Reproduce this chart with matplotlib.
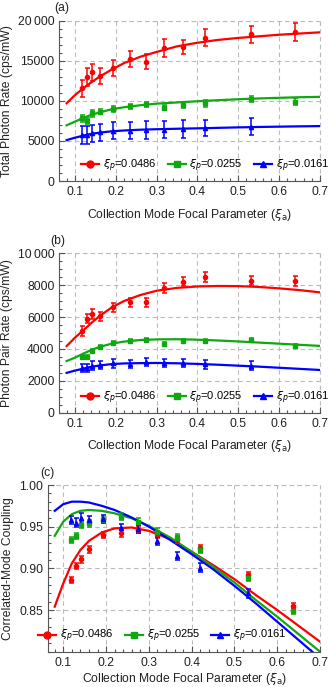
import matplotlib
matplotlib.use("Agg")
import matplotlib.pyplot as plt
from matplotlib.lines import Line2D
from matplotlib.ticker import MultipleLocator, FixedLocator, FixedFormatter

plt.rcParams['font.family'] = ['Liberation Sans', 'DejaVu Sans']
plt.rcParams['mathtext.fontset'] = 'dejavusans'

# ---------------- data ----------------
x_pts = [0.118, 0.129, 0.141, 0.161, 0.194, 0.235, 0.274, 0.318, 0.365, 0.419, 0.531, 0.638]
x_pts_blue = x_pts[:11]
labels = [r"$\xi_p$=0.0486", r"$\xi_p$=0.0255", r"$\xi_p$=0.0161"]
colors = ['#ff0000', '#10a810', '#0000ff']
markers = ['o', 's', '^']

# (a) total photon rate
a_red = [11560, 13000, 13550, 13100, 14050, 15180, 14900, 16630, 16750, 17900, 18300, 18600]
a_red_err = [1100, 1150, 1100, 1000, 1000, 1000, 950, 1100, 900, 1100, 1100, 1100]
a_green = [7800, 7500, 8430, 8650, 8980, 9300, 9550, 9150, 9500, 9690, 10250, 9900]
a_green_err = [400, 400, 400, 350, 350, 350, 350, 350, 350, 400, 400, 400]
a_blue = [5700, 5700, 5950, 6070, 6280, 6300, 6400, 6400, 6450, 6570, 6780]
a_blue_err = [1100, 1100, 1050, 1050, 1050, 1050, 1100, 1050, 1100, 1000, 1050]

# (b) photon pair rate
b_red = [5130, 5900, 6180, 6050, 6600, 6920, 6920, 7840, 8230, 8520, 8280, 8260]
b_red_err = [300, 300, 300, 280, 280, 280, 280, 300, 300, 300, 300, 300]
b_green = [3510, 3490, 3870, 4120, 4350, 4490, 4590, 4290, 4480, 4520, 4580, 4200]
b_green_err = [120, 120, 150, 130, 120, 120, 120, 120, 120, 120, 130, 130]
b_blue = [2800, 2800, 2950, 3000, 3100, 3070, 3180, 3120, 3120, 3030, 2950]
b_blue_err = [270, 270, 270, 270, 270, 260, 270, 260, 270, 260, 270]

# (c) correlated-mode coupling
c_red = [0.886, 0.903, 0.911, 0.923, 0.940, 0.942, 0.946, 0.941, 0.935, 0.924, 0.892, 0.855]
c_red_err = [0.004, 0.004, 0.004, 0.004, 0.004, 0.004, 0.004, 0.004, 0.004, 0.004, 0.004, 0.004]
c_green = [0.934, 0.939, 0.952, 0.954, 0.958, 0.962, 0.956, 0.944, 0.937, 0.922, 0.889, 0.849]
c_green_err = [0.004, 0.004, 0.004, 0.004, 0.004, 0.004, 0.004, 0.004, 0.004, 0.004, 0.004, 0.004]
c_blue = [0.958, 0.955, 0.960, 0.958, 0.959, 0.948, 0.947, 0.933, 0.915, 0.901, 0.870]
c_blue_err = [0.005, 0.005, 0.007, 0.005, 0.005, 0.005, 0.005, 0.005, 0.005, 0.005, 0.005]

# model curves
xc = [0.08, 0.10, 0.12, 0.14, 0.16, 0.19, 0.22, 0.26, 0.30, 0.35, 0.40, 0.45, 0.50, 0.55, 0.60, 0.65, 0.70]
ca_red = [9700, 10700, 11550, 12300, 13000, 13900, 14700, 15500, 16100, 16800, 17250, 17600, 17850, 18050, 18250, 18400, 18550]
ca_green = [6950, 7400, 7850, 8250, 8550, 8950, 9200, 9450, 9650, 9800, 9950, 10080, 10200, 10300, 10380, 10450, 10500]
ca_blue = [5100, 5400, 5650, 5880, 6030, 6200, 6300, 6400, 6460, 6520, 6570, 6630, 6690, 6740, 6780, 6820, 6850]

cb_red = [4180, 4700, 5150, 5620, 6050, 6600, 7000, 7380, 7650, 7830, 7920, 7950, 7940, 7890, 7800, 7690, 7550]
cb_green = [3240, 3450, 3700, 3930, 4120, 4330, 4460, 4560, 4600, 4610, 4580, 4530, 4470, 4400, 4330, 4260, 4190]
cb_blue = [2500, 2640, 2760, 2880, 2960, 3050, 3090, 3110, 3120, 3100, 3060, 3010, 2950, 2890, 2820, 2750, 2680]

cc_red = [0.854, 0.882, 0.906, 0.922, 0.933, 0.943, 0.948, 0.949, 0.945, 0.935, 0.920, 0.904, 0.887, 0.868, 0.850, 0.831, 0.812]
cc_green = [0.939, 0.956, 0.965, 0.969, 0.970, 0.969, 0.966, 0.960, 0.951, 0.937, 0.920, 0.902, 0.883, 0.862, 0.842, 0.821, 0.800]
cc_blue = [0.969, 0.977, 0.980, 0.980, 0.979, 0.975, 0.970, 0.961, 0.950, 0.934, 0.917, 0.899, 0.879, 0.858, 0.836, 0.814, 0.792]

xlabel = r"Collection Mode Focal Parameter ($\xi_{\rm a}$)"

FS = 8.7
TXT = '#222222'

fig = plt.figure(figsize=(3.3, 6.87), dpi=100)
W, H = 330.0, 687.0

def make_ax(left, right, top, bottom):
    return fig.add_axes([left / W, 1 - bottom / H, (right - left) / W, (bottom - top) / H])

ax_a = make_ax(59.3, 320, 20.7, 181)
ax_b = make_ax(59.3, 320, 253.3, 412.7)
ax_c = make_ax(48.3, 320, 485, 651.7)

def style(ax, xlim, ylim, ymajor, yminor, yticklabels):
    ax.set_xlim(*xlim)
    ax.set_ylim(*ylim)
    ax.xaxis.set_major_locator(FixedLocator([0.1, 0.2, 0.3, 0.4, 0.5, 0.6, 0.7]))
    ax.xaxis.set_major_formatter(FixedFormatter(['0.1', '0.2', '0.3', '0.4', '0.5', '0.6', '0.7']))
    ax.xaxis.set_minor_locator(MultipleLocator(0.02))
    ax.yaxis.set_major_locator(FixedLocator(ymajor))
    ax.yaxis.set_major_formatter(FixedFormatter(yticklabels))
    ax.yaxis.set_minor_locator(MultipleLocator(yminor))
    ax.tick_params(which='both', direction='in', colors='#555555', labelcolor=TXT, labelsize=FS, width=0.8)
    ax.tick_params(which='major', length=4, pad=3.5)
    ax.tick_params(which='minor', length=2)
    for s in ['top', 'right']:
        ax.spines[s].set_visible(False)
    for s in ['left', 'bottom']:
        ax.spines[s].set_color('#555555')
        ax.spines[s].set_linewidth(0.8)
    ax.grid(True, which='major', linestyle=(0, (4, 3)), color='#bbbbbb', linewidth=0.8)
    ax.set_axisbelow(True)
    # dashed frame at top and right
    ax.axhline(ylim[1], color='#bbbbbb', linestyle=(0, (4, 3)), linewidth=0.8, clip_on=False, zorder=0.5)
    ax.axvline(xlim[1], color='#bbbbbb', linestyle=(0, (4, 3)), linewidth=0.8, clip_on=False, zorder=0.5)
    ax.set_xlabel(xlabel, fontsize=FS, color=TXT)

def draw(ax, series, curves):
    for (xs, ys, es), cy, col, mk in zip(series, curves, colors, markers):
        ax.plot(xc, cy, color=col, lw=1.6, zorder=2)
        ax.errorbar(xs, ys, yerr=es, fmt=mk, color=col, ms=3, lw=1.1, capsize=1.8, capthick=1.1, zorder=3)

def legend(ax, anchor):
    handles = [Line2D([], [], color=c, marker=m, ms=5, lw=1.6) for c, m in zip(colors, markers)]
    ax.legend(handles, labels, loc='center', bbox_to_anchor=anchor, ncol=3, frameon=False,
              fontsize=8, handlelength=1.6, handletextpad=0.35, columnspacing=1.0, borderaxespad=0)

# (a)
style(ax_a, (0.062, 0.7), (0, 20000), [0, 5000, 10000, 15000, 20000], 1000,
      ['0', '5000', '10000', '15000', '20\u2009000'])
draw(ax_a, [(x_pts, a_red, a_red_err), (x_pts, a_green, a_green_err), (x_pts_blue, a_blue, a_blue_err)],
     [ca_red, ca_green, ca_blue])
legend(ax_a, (0.56, 0.095))
ax_a.set_ylabel("Total Photon Rate (cps/mW)", fontsize=FS, color=TXT)
ax_a.yaxis.set_label_coords(-0.176, 0.5)
ax_a.xaxis.set_label_coords(0.5, -0.16)
fig.text(54 / W, 1 - 8 / H, "(a)", fontsize=FS, ha='left', va='center', color=TXT)

# (b)
style(ax_b, (0.062, 0.7), (0, 10000), [0, 2000, 4000, 6000, 8000, 10000], 500,
      ['0', '2000', '4000', '6000', '8000', '10\u2009000'])
draw(ax_b, [(x_pts, b_red, b_red_err), (x_pts, b_green, b_green_err), (x_pts_blue, b_blue, b_blue_err)],
     [cb_red, cb_green, cb_blue])
legend(ax_b, (0.56, 0.095))
ax_b.set_ylabel("Photon Pair Rate (cps/mW)", fontsize=FS, color=TXT)
ax_b.yaxis.set_label_coords(-0.176, 0.5)
ax_b.xaxis.set_label_coords(0.5, -0.16)
fig.text(50 / W, 1 - 241 / H, "(b)", fontsize=FS, ha='left', va='center', color=TXT)

# (c)
style(ax_c, (0.065, 0.7), (0.80, 1.00), [0.85, 0.90, 0.95, 1.00], 0.01,
      ['0.85', '0.90', '0.95', '1.00'])
draw(ax_c, [(x_pts, c_red, c_red_err), (x_pts, c_green, c_green_err), (x_pts_blue, c_blue, c_blue_err)],
     [cc_red, cc_green, cc_blue])
legend(ax_c, (0.42, 0.094))
ax_c.set_ylabel("Correlated-Mode Coupling", fontsize=FS, color=TXT)
ax_c.yaxis.set_label_coords(-0.128, 0.5)
ax_c.xaxis.set_label_coords(0.5, -0.118)
fig.text(40 / W, 1 - 473 / H, "(c)", fontsize=FS, ha='left', va='center', color=TXT)

fig.savefig("out.png", dpi=100)
